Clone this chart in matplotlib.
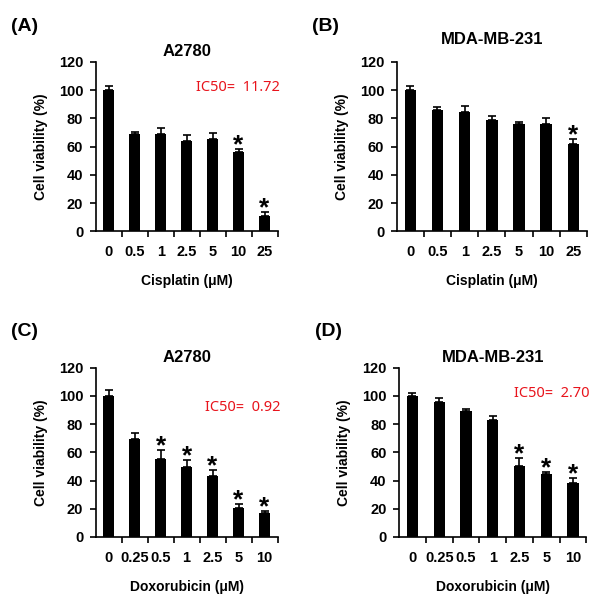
import numpy as np
import matplotlib
matplotlib.use("Agg")
import matplotlib.pyplot as plt

plt.rcParams['font.family'] = ['Liberation Sans', 'DejaVu Sans']

# Cisplatin panels
cis_labels = ["0", "0.5", "1", "2.5", "5", "10", "25"]
cis_a2780 = [100, 69, 69, 64, 65.5, 56, 10.5]
cis_a2780_err = [3, 1.5, 4, 4.5, 4.5, 2.5, 3.5]
cis_a2780_sig = [False, False, False, False, False, True, True]
cis_mda = [100, 86, 84.5, 79, 76, 76, 62]
cis_mda_err = [3, 2, 4, 3, 1.2, 4, 3.5]
cis_mda_sig = [False, False, False, False, False, False, True]

# Doxorubicin panels
dox_labels = ["0", "0.25", "0.5", "1", "2.5", "5", "10"]
dox_a2780 = [100, 69.5, 55.5, 49.5, 43, 20.5, 17]
dox_a2780_err = [4.5, 4.5, 6, 5, 4.5, 3, 1.5]
dox_a2780_sig = [False, False, True, True, True, True, True]
dox_mda = [100, 96, 89, 83, 50.5, 44.5, 38]
dox_mda_err = [2, 2.2, 1.5, 3, 5.5, 1.5, 3.5]
dox_mda_sig = [False, False, False, False, True, True, True]

panels = [
    ("(A)", "A2780", cis_labels, cis_a2780, cis_a2780_err, cis_a2780_sig,
     "Cisplatin (\u03bcM)", "IC50=  11.72", 102, 4, [0.159, 0.612, 0.302, 0.284]),
    ("(B)", "MDA-MB-231", cis_labels, cis_mda, cis_mda_err, cis_mda_sig,
     "Cisplatin (\u03bcM)", None, None, 13, [0.659, 0.612, 0.316, 0.284]),
    ("(C)", "A2780", dox_labels, dox_a2780, dox_a2780_err, dox_a2780_sig,
     "Doxorubicin (\u03bcM)", "IC50=  0.92", 92, 4, [0.159, 0.099, 0.302, 0.284]),
    ("(D)", "MDA-MB-231", dox_labels, dox_mda, dox_mda_err, dox_mda_sig,
     "Doxorubicin (\u03bcM)", "IC50=  2.70", 102, 4, [0.663, 0.099, 0.311, 0.284]),
]

fig = plt.figure(figsize=(6.02, 5.96), dpi=100)

for tag, title, labels, vals, errs, sig, xlab, ic50, ic50_y, tpad, rect in panels:
    ax = fig.add_axes(rect)
    x = np.arange(len(vals))
    ax.bar(x, vals, width=0.42, color="black", zorder=2)
    ax.errorbar(x, vals, yerr=[np.zeros(len(errs)), errs], fmt="none",
                ecolor="black", elinewidth=1.2, capsize=3, capthick=1.2, zorder=1)
    for xi, v, e, s in zip(x, vals, errs, sig):
        if s:
            ax.annotate("*", (xi, v + e), xytext=(0, -6), textcoords="offset points",
                        ha="center", va="bottom", fontsize=19, fontweight="bold")

    ax.set_xlim(-0.5, len(vals) - 0.5)
    ax.set_ylim(0, 120)
    ax.set_yticks(np.arange(0, 121, 20))
    ax.set_xticks(x)
    ax.set_xticklabels(labels)
    ax.set_xticks(np.arange(0.5, len(vals) - 0.4, 1), minor=True)
    ax.tick_params(axis="x", which="major", length=0, pad=10, labelsize=10.5)
    ax.tick_params(axis="x", which="minor", length=4, width=1.2, direction="out")
    ax.tick_params(axis="y", length=4, width=1.2, labelsize=10.5, pad=5)
    for lbl in ax.get_xticklabels() + ax.get_yticklabels():
        lbl.set_fontweight("bold")
    for side in ("top", "right"):
        ax.spines[side].set_visible(False)
    for side in ("left", "bottom"):
        ax.spines[side].set_linewidth(1.2)

    ax.set_ylabel("Cell viability (%)", fontsize=10, fontweight="bold", labelpad=8)
    ax.set_xlabel(xlab, fontsize=10, fontweight="bold", labelpad=11)
    ax.set_title(title, fontsize=12, fontweight="bold", pad=tpad)
    if ic50:
        ax.text(len(vals) - 0.4, ic50_y, ic50, color="#e8141c", fontsize=10.5,
                family=["Noto Sans", "DejaVu Sans"], ha="right", va="center")

    fig.text(rect[0] - 0.14, rect[1] + rect[3] + 0.06, tag, fontsize=14,
             fontweight="bold", va="center", ha="left")

fig.savefig("out.png", dpi=100)
